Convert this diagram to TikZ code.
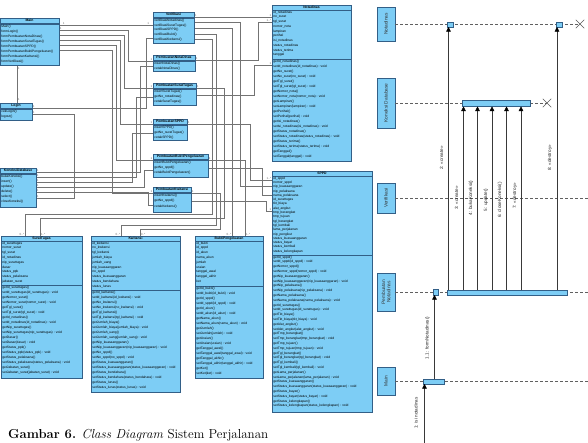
\documentclass[tikz,border=0pt]{standalone}
\usepackage{fontspec}
\newfontfamily\dsans{Liberation Sans}
\usetikzlibrary{calc,arrows.meta,shapes.misc}
\definecolor{clsfill}{RGB}{125,205,245}
\definecolor{clsdraw}{RGB}{50,95,135}
\definecolor{connc}{RGB}{115,115,115}
\def\rsa{4.8}\def\rsm{5}
\newcommand{\umlcls}[9]{%
  \node[clsbox, minimum width={#4-#2}, minimum height={#5-#3}] (#1) at ({(#2+#4)/2},{(#3+#5)/2}) {};
  \draw[clssep] (#2,{#3+5}) -- (#4,{#3+5});
  \draw[clssep] (#2,#7) -- (#4,#7);
  \node[clshdr] (#1-h) at ({(#2+#4)/2},{#3+2.6}) {#6};
  \node[clsa] (#1-a) at ({#2+1.2},{#3+5.6}) {#8};
  \node[clsm] (#1-m) at ({#2+1.2},{#7+0.6}) {#9};
}
\pgfdeclarelayer{back}\pgfsetlayers{back,main}
\begin{document}
\catcode`\_=12
\begin{tikzpicture}[x=1pt,y=-1pt,
 clsbox/.style={draw=clsdraw, fill=clsfill, line width=0.4pt, inner sep=0pt, outer sep=0pt},
 clssep/.style={draw=clsdraw, line width=0.3pt},
 clshdr/.style={inner sep=0pt, font=\dsans\bfseries\fontsize{3.4}{4}\selectfont},
 clsa/.style={anchor=north west, inner sep=0pt, align=left, font=\dsans\fontsize{3.3}{\rsa}\selectfont},
 clsm/.style={anchor=north west, inner sep=0pt, align=left, font=\dsans\fontsize{3.3}{\rsm}\selectfont},
 conn/.style={draw=connc, line width=0.35pt},
 mult/.style={font=\dsans\fontsize{3}{3}\selectfont, text=connc, inner sep=0.6pt},
 lifebox/.style={draw=clsdraw, fill=clsfill, line width=0.4pt, inner sep=0pt, outer sep=0pt},
 lifetxt/.style={rotate=90, font=\dsans\fontsize{4.8}{5.4}\selectfont, align=center, inner sep=0pt, text=black!80},
 lifeline/.style={draw=gray!75!black, line width=0.4pt, dash pattern=on 3pt off 2pt},
 actbox/.style={draw=clsdraw, fill=clsfill, line width=0.35pt, inner sep=0pt, outer sep=0pt},
 msg/.style={draw=gray!45!black, line width=0.4pt, -{Triangle[length=4.5pt,width=4.5pt,black]}},
 msglbl/.style={rotate=90, font=\dsans\fontsize{4.6}{5}\selectfont, inner sep=0pt, text=black!85},
 xmark/.style={cross out, draw=gray!70!black, line width=0.5pt, minimum size=8pt, inner sep=0pt}]
\useasboundingbox (0,0) rectangle (588,442);
\clip (0,0) rectangle (588,442);

% ---------- class boxes ----------
\def\rsm{5}
\umlcls{M}{0}{18}{59}{65}{Main}{24}{}{Main()\\formLogin()\\formPembuatanNotaDinas()\\formPembuatanSuratTugas()\\formPembuatanSPPD()\\formPembuatanBuktiPengeluaran()\\formPembuatanKwitansi()\\formVerifikasi()}
\umlcls{L}{0}{103}{32}{120}{Login}{109}{}{cekLogin()\\logout()}
\umlcls{K}{0}{168}{36}{207}{KoneksiDatabase}{174}{}{bukaKoneksi()\\insert()\\update()\\delete()\\select()\\closeKoneksi()}
\def\rsm{4.9}
\umlcls{V}{153}{12}{194}{43}{Verifikasi}{18}{}{verifikasiNotadinas()\\verifikasiSuratTugas()\\verifikasiSPPD()\\verifikasiBukti()\\verifikasiKwitansi()}
\def\rsm{5}
\umlcls{PN}{153}{55}{195}{71}{PembuatanNotaDinas}{61}{}{insertNotaDinas()\\cetakNotaDinas()}
\umlcls{PS}{153}{83}{196}{105}{PembuatanSuratTugas}{89}{}{insertSuratTugas()\\getNo_notadinas()\\cetakSuratTugas()}
\umlcls{PP}{153}{119}{187}{140}{PembuatanSPPD}{125}{}{insertSPPD()\\getNo_suratTugas()\\cetakSPPD()}
\def\rsm{5.4}
\umlcls{PB}{153}{154}{208}{177}{PembuatanBuktiPengeluaran}{160}{}{insertBuktiPengeluaran()\\getNo_sppd()\\cetakBuktiPengeluaran()}
\def\rsm{5.6}
\umlcls{PK}{153}{187}{191}{212}{PembuatanKwitansi}{193}{}{insertKwitansi()\\getNo_sppd()\\cetakKwitansi()}

\def\rsa{4.75}\def\rsm{5}
\umlcls{ND}{272}{5}{351}{161}{Notadinas}{59}{id_notadinas\\no_surat\\tgl_surat\\nomor_nota\\lampiran\\perihal\\isi_notadinas\\status_notadinas\\status_terima\\tanggal}{getId_notadinas()\\setId_notadinas(id_notadinas) : void\\getNo_surat()\\setNo_surat(no_surat) : void\\getTgl_surat()\\setTgl_surat(tgl_surat) : void\\getNomor_nota()\\setNomor_nota(nomor_nota) : void\\getLampiran()\\setLampiran(lampiran) : void\\getPerihal()\\setPerihal(perihal) : void\\getIsi_notadinas()\\setIsi_notadinas(isi_notadinas) : void\\getStatus_notadinas()\\setStatus_notadinas(status_notadinas) : void\\getStatus_terima()\\setStatus_terima(status_terima) : void\\getTanggal()\\setTanggal(tanggal) : void}

\def\rsa{4.3}\def\rsm{4.8}
\umlcls{SP}{272}{171}{372}{412}{SPPD}{255}{id_sppd\\nomor_sppd\\nip_kuasaanggaran\\nip_pelaksana\\nama_pelaksana\\id_surattugas\\tkt_biaya\\alat_angkut\\tmp_berangkat\\tmp_tujuan\\tgl_berangkat\\tgl_kembali\\lama_perjalanan\\nip_pengikut\\status_kuasaanggaran\\status_bayar\\status_kembali\\status_kelengkapan}{getId_sppd()\\setId_sppd(id_sppd) : void\\getNomor_sppd()\\setNomor_sppd(nomor_sppd) : void\\getNip_kuasaanggaran()\\setNip_kuasaanggaran(nip_kuasaanggaran) : void\\getNip_pelaksana()\\setNip_pelaksana(nip_pelaksana) : void\\getNama_pelaksana()\\setNama_pelaksana(nama_pelaksana) : void\\getId_surattugas()\\setId_surattugas(id_surattugas) : void\\getTkt_biaya()\\setTkt_biaya(tkt_biaya) : void\\getAlat_angkut()\\setAlat_angkut(alat_angkut) : void\\getTmp_berangkat()\\setTmp_berangkat(tmp_berangkat) : void\\getTmp_tujuan()\\setTmp_tujuan(tmp_tujuan) : void\\getTgl_berangkat()\\setTgl_berangkat(tgl_berangkat) : void\\getTgl_kembali()\\setTgl_kembali(tgl_kembali) : void\\getLama_perjalanan()\\setLama_perjalanan(lama_perjalanan) : void\\getStatus_kuasaanggaran()\\setStatus_kuasaanggaran(status_kuasaanggaran) : void\\getStatus_bayar()\\setStatus_bayar(status_bayar) : void\\getStatus_kelengkapan()\\setStatus_kelengkapan(status_kelengkapan) : void}

\def\rsa{4.8}\def\rsm{5}
\umlcls{ST}{1}{236}{82}{378}{SuratTugas}{285.5}{id_surattugas\\nomor_surat\\tgl_surat\\id_notadinas\\nip_surattugas\\dasar\\status_ppk\\status_pelaksana\\jabatan_surat}{getId_surattugas()\\setId_surattugas(id_surattugas) : void\\getNomor_surat()\\setNomor_surat(nomor_surat) : void\\getTgl_surat()\\setTgl_surat(tgl_surat) : void\\getId_notadinas()\\setId_notadinas(id_notadinas) : void\\getNip_surattugas()\\setNip_surattugas(nip_surattugas) : void\\getDasar()\\setDasar(dasar) : void\\getStatus_ppk()\\setStatus_ppk(status_ppk) : void\\getStatus_pelaksana()\\setStatus_pelaksana(status_pelaksana) : void\\getJabatan_surat()\\setJabatan_surat(jabatan_surat) : void}

\umlcls{KW}{91}{236}{180}{392}{Kwitansi}{290}{id_kwitansi\\no_kwitansi\\tgl_kwitansi\\jumlah_biaya\\jumlah_uang\\nip_kuasaanggaran\\no_sppd\\status_kuasaanggaran\\status_bendahara\\status_lunas}{getId_kwitansi()\\setId_kwitansi(id_kwitansi) : void\\getNo_kwitansi()\\setNo_kwitansi(no_kwitansi) : void\\getTgl_kwitansi()\\setTgl_kwitansi(tgl_kwitansi) : void\\getJumlah_biaya()\\setJumlah_biaya(jumlah_biaya) : void\\getJumlah_uang()\\setJumlah_uang(jumlah_uang) : void\\getNip_kuasaanggaran()\\setNip_kuasaanggaran(nip_kuasaanggaran) : void\\getNo_sppd()\\setNo_sppd(no_sppd) : void\\getStatus_kuasaanggaran()\\setStatus_kuasaanggaran(status_kuasaanggaran) : void\\getStatus_bendahara()\\setStatus_bendahara(status_bendahara) : void\\getStatus_lunas()\\setStatus_lunas(status_lunas) : void}

\umlcls{BP}{195}{236}{263}{378}{BuktiPengeluaran}{286}{id_bukti\\id_sppd\\id_akun\\nama_akun\\jumlah\\uraian\\tanggal_awal\\tanggal_akhir\\ket}{getId_bukti()\\setId_bukti(id_bukti) : void\\getId_sppd()\\setId_sppd(id_sppd) : void\\getId_akun()\\setId_akun(id_akun) : void\\getNama_akun()\\setNama_akun(nama_akun) : void\\getJumlah()\\setJumlah(jumlah) : void\\getUraian()\\setUraian(uraian) : void\\getTanggal_awal()\\setTanggal_awal(tanggal_awal) : void\\getTanggal_akhir()\\setTanggal_akhir(tanggal_akhir) : void\\getKet()\\setKet(ket) : void}

% ---------- connectors (on back layer) ----------
\begin{pgfonlayer}{back}
\draw[conn] ($(M.south west)+(17,0)$) -- node[mult,pos=0.1,right]{1} node[mult,pos=0.9,right]{1} ($(L.north west)+(17,0)$);
\draw[conn] ($(M.north east)+(0,7)$) -- node[mult,pos=0.05,above]{1} node[mult,pos=0.95,above]{1} ($(V.north west)+(0,13)$);
\draw[conn] ($(M.north east)+(0,12)$) node[mult,above right]{1} -- ++(69,0) |- ($(PN.north west)+(0,6)$) node[mult,above left]{1};
\draw[conn] ($(M.north east)+(0,17)$) -- ++(65,0) |- ($(PS.north west)+(0,5)$) node[mult,above left]{1};
\draw[conn] ($(M.north east)+(0,22)$) -- ++(61,0) |- ($(PP.north west)+(0,5)$) node[mult,above left]{1};
\draw[conn] ($(M.north east)+(0,27)$) -- ++(57,0) |- ($(PB.north west)+(0,6)$) node[mult,above left]{1};
\draw[conn] ($(M.north east)+(0,32)$) -- ++(53,0) |- ($(PK.north west)+(0,6)$) node[mult,above left]{1};
\draw[conn] ($(K.north east)+(0,4)$) node[mult,above right]{1} -- ++(104,0) |- ($(PN.north west)+(0,11)$);
\draw[conn] ($(K.north east)+(0,9)$) node[mult,above right]{1} -- ++(100,0) |- ($(PS.north west)+(0,14)$);
\draw[conn] ($(K.north east)+(0,14)$) node[mult,above right]{1} -- ++(96,0) |- ($(PP.north west)+(0,14)$);
\draw[conn] ($(K.north east)+(0,19)$) node[mult,above right]{1} -- ++(108,0) |- ($(PB.north west)+(0,16)$);
\draw[conn] ($(K.north east)+(0,24)$) node[mult,above right]{1} -- ++(112,0) |- ($(PK.north west)+(0,18)$);
\draw[conn] ($(L.north east)+(0,11)$) node[mult,above right]{1} -- ++(42,0) |- ($(K.north east)+(0,30)$) node[mult,above right]{1};
\draw[conn] ($(L.north east)+(0,5)$) node[mult,above right]{1} -- ++(114,0) |- ($(V.north west)+(0,26)$);
\draw[conn] ($(PN.north east)+(0,5)$) node[mult,above right]{1} -- ++(63,0) |- ($(ND.north west)+(0,17)$) node[mult,above left]{1..*};
\draw[conn] ($(PS.north east)+(0,12)$) -- ++(58,0) |- ($(ND.north west)+(0,60)$) node[mult,above left]{1};
\draw[conn] ($(PS.north east)+(0,5)$) node[mult,above right]{1} -- ++(28,0) -- ++(0,130) -| ($(ST.north west)+(39,0)$) node[mult,above right]{1..*};
\draw[conn] ($(PP.north east)+(0,5)$) node[mult,above right]{1} -- ++(63,0) |- ($(SP.north west)+(0,9)$) node[mult,above left]{1..*};
\draw[conn] ($(PB.north east)+(0,6)$) node[mult,above right]{1} -| ($(BP.north west)+(50,0)$) node[mult,above right]{1..*};
\draw[conn] ($(PB.north east)+(0,14)$) -- ++(54,0) |- ($(SP.north west)+(0,24)$);
\draw[conn] ($(PK.north east)+(0,6)$) node[mult,above right]{1} -- ++(29,0) -- ++(0,36) -| ($(KW.north west)+(49,0)$) node[mult,above right]{0..*};
\draw[conn] ($(PK.north east)+(0,14)$) -- ++(75,0) |- ($(SP.north west)+(0,40)$) node[mult,above left]{1};
\draw[conn] ($(V.north east)+(0,5)$) node[mult,above right]{1} -- ($(ND.north west)+(0,12)$) node[mult,above left]{1};
\draw[conn] ($(V.north east)+(0,10)$) -- ++(46,0) |- ($(SP.north west)+(0,15)$);
\draw[conn] ($(V.north east)+(0,16)$) -| ($(BP.north west)+(37,0)$) node[mult,above left]{0..*};
\draw[conn] ($(V.north east)+(0,22)$) -- ++(22,0) -- ++(0,191) -| ($(KW.north west)+(30,0)$) node[mult,above left]{0..*};
\draw[conn] ($(V.north east)+(0,27)$) -- ++(18,0) -- ++(0,175) -| ($(ST.north west)+(24,0)$) node[mult,above left]{0..*};
\end{pgfonlayer}

% ---------- sequence diagram ----------
\node[lifebox, minimum width=18pt, minimum height=34pt] (sN) at (386,24) {};
\node[lifetxt] (sNt) at (sN) {Notadinas};
\node[lifebox, minimum width=18pt, minimum height=50pt] (sK) at (386,103) {};
\node[lifetxt] (sKt) at (sK) {Koneksi Database};
\node[lifebox, minimum width=18pt, minimum height=30pt] (sV) at (386,198) {};
\node[lifetxt] (sVt) at (sV) {Verifikasi};
\node[lifebox, minimum width=18pt, minimum height=38pt] (sP) at (386,292) {};
\node[lifetxt] (sPt) at (sP) {Pembuatan\\Notadinas};
\node[lifebox, minimum width=18pt, minimum height=28pt] (sM) at (386,381) {};
\node[lifetxt] (sMt) at (sM) {Main};

\node[xmark] (xN) at (580,24) {};
\node[xmark] (xK) at (547,103) {};
\coordinate (eV) at (588,198);
\coordinate (eP) at (588,292);
\coordinate (eM) at (588,381);
\draw[lifeline] (sN.east) -- (xN.center);
\draw[lifeline] (sK.east) -- (xK.center);
\draw[lifeline] (sV.east) -- (eV);
\draw[lifeline] (sP.east) -- (eP);
\draw[lifeline] (sM.east) -- (eM);

\node[actbox, minimum width=6pt, minimum height=5pt] (aN1) at (450,24.5) {};
\node[actbox, minimum width=6pt, minimum height=5pt] (aN2) at (559,24.5) {};
\node[actbox, minimum width=68pt, minimum height=6pt] (aK) at (496,103.5) {};
\node[actbox, minimum width=5pt, minimum height=6pt] (aP1) at (435.5,292) {};
\node[actbox, minimum width=120pt, minimum height=5pt] (aP2) at (507,292.5) {};
\node[actbox, minimum width=21pt, minimum height=5pt] (aM) at (433.5,381.5) {};

\coordinate (src1) at (424.5,446);
\coordinate (x11) at (434.5,0);
\coordinate (x2) at (448.5,0);
\coordinate (x3) at (463.5,0);
\coordinate (x4) at (477.5,0);
\coordinate (x5) at (492,0);
\coordinate (x6) at (506.5,0);
\coordinate (x7) at (521,0);
\coordinate (x8) at (557,0);
\draw[msg] (src1) -- (src1 |- aM.south);
\draw[msg] (x11 |- aM.north) -- (x11 |- aP1.south);
\draw[msg] (x2 |- aP2.north) -- (x2 |- aN1.south);
\draw[msg] (x3 |- aP2.north) -- (x3 |- aK.south);
\draw[msg] (x4 |- aP2.north) -- (x4 |- aK.south);
\draw[msg] (x5 |- aP2.north) -- (x5 |- aK.south);
\draw[msg] (x6 |- aP2.north) -- (x6 |- aK.south);
\draw[msg] (x7 |- aP2.north) -- (x7 |- aK.south);
\draw[msg] (x8 |- aP2.north) -- (x8 |- aN2.south);

\node[msglbl] (l1) at (416,413) {1: isi notadinas};
\node[msglbl] (l11) at (427.5,338) {1.1: formNotadinas()};
\node[msglbl] (l2) at (441.5,158) {2: «create»};
\node[msglbl] (l3) at (456.5,198) {3: «create»};
\node[msglbl] (l4) at (471,198) {4: bukaKoneksi()};
\node[msglbl] (l5) at (486,200) {5: update()};
\node[msglbl] (l6) at (500,200) {6: closeKoneksi()};
\node[msglbl] (l7) at (515,196) {7: «destroy»};
\node[msglbl] (l8) at (550,158) {8: «destroy»};

% ---------- caption ----------
\node[anchor=base west, inner sep=0pt, font=\fontsize{13}{15}\selectfont] (cap) at (8,438.5) {\textbf{Gambar 6.} \textit{Class Diagram} Sistem Perjalanan};
\end{tikzpicture}
\end{document}
